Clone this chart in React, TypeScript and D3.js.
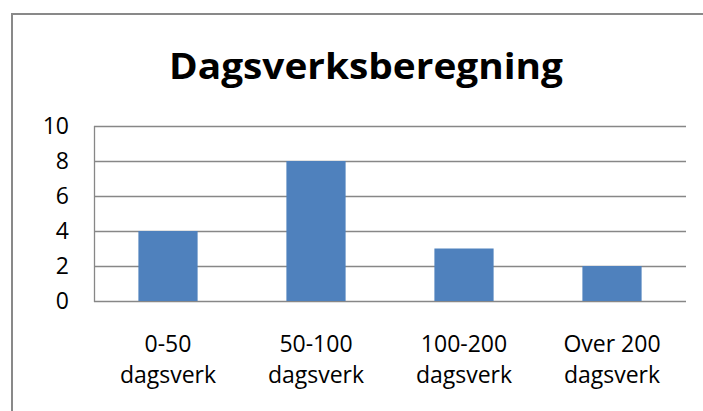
import React from "react";
import * as d3 from "d3";

const categories = ["0-50|dagsverk", "50-100|dagsverk", "100-200|dagsverk", "Over 200|dagsverk"];
const values = [4, 8, 3, 2];
const yTicks = [0, 2, 4, 6, 8, 10];
const title = "Dagsverksberegning";

const W = 703;
const H = 411;
const plot = { left: 94, right: 686, top: 126, bottom: 301 };
const font = "'Open Sans', 'Liberation Sans', sans-serif";

const App = () => {
  const x = d3
    .scaleBand<string>()
    .domain(categories)
    .range([plot.left, plot.right])
    .paddingInner(0.6)
    .paddingOuter(0.3);

  const y = d3.scaleLinear().domain([0, 10]).range([plot.bottom, plot.top]);

  return (
    <svg
      width={W}
      height={H}
      style={{ position: "absolute", left: 0, top: 0, display: "block", background: "#fff" }}
    >
      <rect x={12} y={14} width={W + 40} height={H + 40} fill="#fff" stroke="#898989" strokeWidth={2} />

      <text
        x={366}
        y={79}
        textAnchor="middle"
        fontFamily={font}
        fontWeight="bold"
        fontSize={35}
        textLength={394}
        lengthAdjust="spacingAndGlyphs"
        fill="#000"
      >
        {title}
      </text>

      {/* gridlines + y labels */}
      {yTicks.map((t) => (
        <g key={t}>
          <line
            x1={plot.left}
            x2={plot.right}
            y1={Math.round(y(t)) + 0.5}
            y2={Math.round(y(t)) + 0.5}
            stroke="#878787"
            strokeWidth={1.3}
          />
          <text
            x={69}
            y={y(t)}
            dy="0.36em"
            textAnchor="end"
            fontFamily={font}
            fontSize={23}
            fill="#000"
          >
            {t}
          </text>
        </g>
      ))}
      <line
        x1={plot.left + 0.5}
        x2={plot.left + 0.5}
        y1={plot.top}
        y2={plot.bottom + 1}
        stroke="#878787"
        strokeWidth={1.3}
      />

      {/* bars */}
      {categories.map((c, i) => (
        <rect
          key={c}
          x={x(c)}
          y={y(values[i])}
          width={x.bandwidth()}
          height={y(0) - y(values[i])}
          fill="#4F81BD"
        />
      ))}

      {/* x labels */}
      {categories.map((c) => {
        const cx = (x(c) ?? 0) + x.bandwidth() / 2;
        const lines = c.split("|");
        return (
          <text key={c} textAnchor="middle" fontFamily={font} fontSize={23} fill="#000">
            {lines.map((l, j) => (
              <tspan key={j} x={cx} y={352 + j * 31}>
                {l}
              </tspan>
            ))}
          </text>
        );
      })}
    </svg>
  );
};

export default App;
